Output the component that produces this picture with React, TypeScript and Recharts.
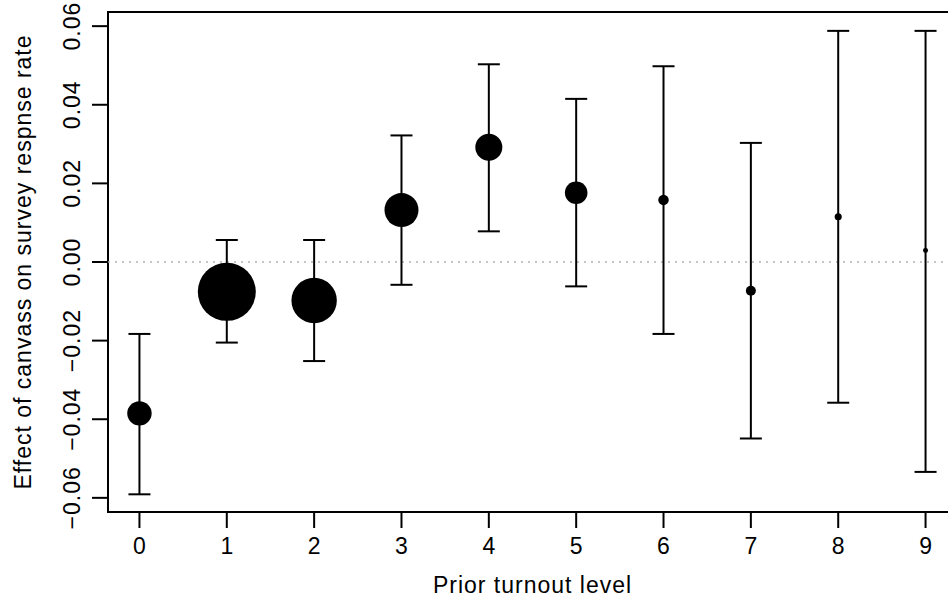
import React from 'react';
import {
  ComposedChart,
  Scatter,
  XAxis,
  YAxis,
  ZAxis,
  ErrorBar,
  ReferenceLine,
  ReferenceArea,
} from 'recharts';

// prior turnout levels on the x axis
const levels = [0, 1, 2, 3, 4, 5, 6, 7, 8, 9];
// point estimates of the canvass effect
const estimate = [-0.0385, -0.0076, -0.0098, 0.0132, 0.0292, 0.0176, 0.0158, -0.0073, 0.0115, 0.0029];
// lower / upper confidence bounds
const ciLow = [-0.0591, -0.0205, -0.0252, -0.0058, 0.0078, -0.0062, -0.0183, -0.0449, -0.0358, -0.0534];
const ciHigh = [-0.0183, 0.0056, 0.0056, 0.0322, 0.0503, 0.0415, 0.0498, 0.0303, 0.0588, 0.0588];
// relative group size (drives the symbol area)
const weight = [0.177, 1, 0.613, 0.344, 0.217, 0.152, 0.033, 0.03, 0.015, 0.0074];

const xTicks = [0, 1, 2, 3, 4, 5, 6, 7, 8, 9];
const yTicks = [-0.06, -0.04, -0.02, 0, 0.02, 0.04, 0.06];

const data = levels.map((lvl, i) => ({
  level: lvl,
  est: estimate[i],
  err: [estimate[i] - ciLow[i], ciHigh[i] - estimate[i]],
  weight: weight[i],
}));

const FONT = '"Liberation Sans", Arial, Helvetica, sans-serif';
const FS = 23;
const LS = 1;

const YTick = (props: any) => {
  const { x, y, payload } = props;
  return (
    <text
      x={x}
      y={y}
      transform={`rotate(-90, ${x}, ${y})`}
      textAnchor="middle"
      fontFamily={FONT}
      fontSize={FS}
      letterSpacing={LS}
      fill="#000"
    >
      {payload.value.toFixed(2).replace('-', '\u2212')}
    </text>
  );
};

const YTitle = (props: any) => {
  const vb = props.viewBox || { x: 0, y: 12, width: 108, height: 500 };
  const cy = vb.y + vb.height / 2;
  return (
    <text
      x={31}
      y={cy}
      transform={`rotate(-90, 31, ${cy})`}
      textAnchor="middle"
      fontFamily={FONT}
      fontSize={FS}
      letterSpacing={LS}
      fill="#000"
    >
      Effect of canvass on survey respnse rate
    </text>
  );
};

const App: React.FC = () => {
  return (
    <div
      style={{
        position: 'absolute',
        left: 0,
        top: 0,
        width: 948,
        height: 601,
        overflow: 'hidden',
        background: '#fff',
      }}
    >
      <ComposedChart
        width={970}
        height={601}
        data={data}
        margin={{ top: 12, right: 13, bottom: 0, left: 0 }}
      >
        <XAxis
          dataKey="level"
          type="number"
          domain={[-0.36, 9.36]}
          ticks={xTicks}
          allowDataOverflow
          axisLine={false}
          tickSize={16}
          tickMargin={10}
          tickLine={{ stroke: '#000', strokeWidth: 2 }}
          tick={{ fill: '#000', fontSize: FS, fontFamily: FONT }}
          height={89}
          label={{
            value: 'Prior turnout level',
            position: 'insideBottom',
            offset: 8,
            fill: '#000',
            fontSize: FS,
            fontFamily: FONT,
            letterSpacing: LS,
          }}
        />
        <YAxis
          type="number"
          domain={[-0.0636, 0.0636]}
          ticks={yTicks}
          allowDataOverflow
          axisLine={false}
          width={108}
          tickSize={16}
          tickMargin={12}
          tickLine={{ stroke: '#000', strokeWidth: 2 }}
          tick={<YTick />}
          label={<YTitle />}
        />
        <ZAxis dataKey="weight" type="number" domain={[0, 1]} range={[0, 2642]} />
        <ReferenceLine y={0} stroke="#b3b3b3" strokeWidth={1.5} strokeDasharray="2 5" />
        <ReferenceArea
          x1={-0.36}
          x2={9.36}
          y1={-0.0636}
          y2={0.0636}
          fill="none"
          stroke="#000"
          strokeWidth={2}
          ifOverflow="visible"
        />
        <Scatter dataKey="est" fill="#000" shape="circle" isAnimationActive={false}>
          <ErrorBar
            dataKey="err"
            direction="y"
            width={11}
            stroke="#000"
            strokeWidth={2}
            isAnimationActive={false}
          />
        </Scatter>
      </ComposedChart>
    </div>
  );
};

export default App;
